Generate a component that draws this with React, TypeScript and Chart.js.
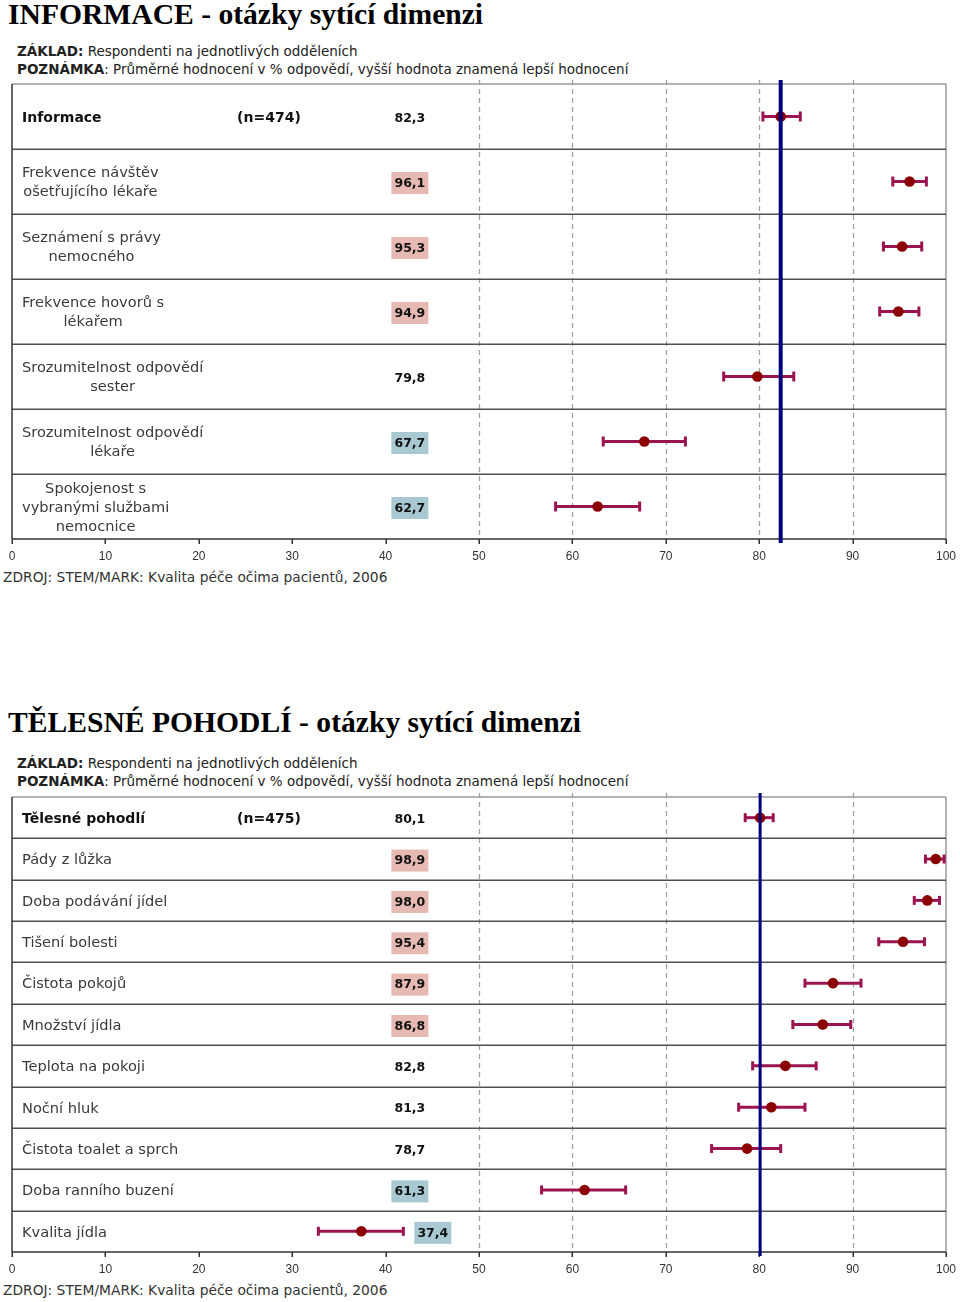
import React, { useEffect, useRef } from "react";
import { Chart, registerables } from "chart.js";

Chart.register(...registerables);

// ---------- DATA ----------
const xTickValues = [0, 10, 20, 30, 40, 50, 60, 70, 80, 90, 100];
const xTickLabels = ["0", "10", "20", "30", "40", "50", "60", "70", "80", "90", "100"];
const gridValues = [50, 60, 70, 80, 90];

// Panel 1: INFORMACE
const infoTitle = "INFORMACE - otázky sytící dimenzi";
const infoN = "(n=474)";
const infoCategories: string[][] = [
  ["Informace"],
  ["Frekvence návštěv", "ošetřujícího lékaře"],
  ["Seznámení s právy", "nemocného"],
  ["Frekvence hovorů s", "lékařem"],
  ["Srozumitelnost odpovědí", "sester"],
  ["Srozumitelnost odpovědí", "lékaře"],
  ["Spokojenost s", "vybranými službami", "nemocnice"],
];
const infoMeans = [82.3, 96.1, 95.3, 94.9, 79.8, 67.7, 62.7];
const infoLow = [80.4, 94.3, 93.3, 92.9, 76.2, 63.3, 58.2];
const infoHigh = [84.4, 97.9, 97.4, 97.1, 83.7, 72.1, 67.2];
const infoSignif = ["none", "higher", "higher", "higher", "none", "lower", "lower"];

// Panel 2: TĚLESNÉ POHODLÍ
const bodyTitle = "TĚLESNÉ POHODLÍ - otázky sytící dimenzi";
const bodyN = "(n=475)";
const bodyCategories: string[][] = [
  ["Tělesné pohodlí"],
  ["Pády z lůžka"],
  ["Doba podávání jídel"],
  ["Tišení bolesti"],
  ["Čistota pokojů"],
  ["Množství jídla"],
  ["Teplota na pokoji"],
  ["Noční hluk"],
  ["Čistota toalet a sprch"],
  ["Doba ranního buzení"],
  ["Kvalita jídla"],
];
const bodyMeans = [80.1, 98.9, 98.0, 95.4, 87.9, 86.8, 82.8, 81.3, 78.7, 61.3, 37.4];
const bodyLow = [78.5, 97.8, 96.6, 92.8, 84.9, 83.6, 79.3, 77.8, 74.9, 56.7, 32.8];
const bodyHigh = [81.5, 99.8, 99.3, 97.7, 90.9, 89.8, 86.1, 84.9, 82.3, 65.7, 41.9];
const bodySignif = ["none", "higher", "higher", "higher", "higher", "higher", "none", "none", "none", "lower", "lower"];

const baseText = "Respondenti na jednotlivých odděleních";
const noteText = ": Průměrné hodnocení v % odpovědí, vyšší hodnota znamená lepší hodnocení";
const sourceText = "ZDROJ: STEM/MARK: Kvalita péče očima pacientů, 2006";

// ---------- STYLE ----------
const SANS = "'DejaVu Sans', Verdana, sans-serif";
const PINK = "#e6b9b3";
const BLUE = "#a8c9d2";
const BAR = "#9b1450";
const DOT = "#8b0000";
const NAVY = "#000080";
const LABEL_CENTER_VALUE = 42.6;
const N_LABEL_VALUE = 24.1;
const TEXT_DY = 1.5;

type PanelProps = {
  categories: string[][];
  means: number[];
  lows: number[];
  highs: number[];
  signif: string[];
  nLabel: string;
  lineH: number;
  capH: number;
  refW: number;
};

function fmt(v: number) {
  return v.toFixed(1).replace(".", ",");
}

function makePanelPlugin(d: PanelProps) {
  const line = (ctx: CanvasRenderingContext2D, x1: number, y1: number, x2: number, y2: number) => {
    ctx.beginPath();
    ctx.moveTo(x1, y1);
    ctx.lineTo(x2, y2);
    ctx.stroke();
  };
  return {
    id: "panel",
    beforeDatasetsDraw(chart: any) {
      const { ctx, chartArea: a, scales } = chart;
      const x = scales.x;
      const y = scales.y;
      const n = d.means.length;
      ctx.save();
      // dashed grid
      ctx.strokeStyle = "#a0a0a0";
      ctx.lineWidth = 1.3;
      ctx.setLineDash([5, 4]);
      for (const v of gridValues) {
        const px = Math.round(x.getPixelForValue(v)) + 0.5;
        line(ctx, px, a.top - 4, px, a.bottom);
      }
      ctx.setLineDash([]);
      // top & right border
      ctx.strokeStyle = "#9a9a9a";
      ctx.lineWidth = 1.5;
      line(ctx, a.left, a.top, a.right, a.top);
      line(ctx, a.right, a.top, a.right, a.bottom);
      // row separators
      ctx.strokeStyle = "#505050";
      ctx.lineWidth = 1.5;
      for (let i = 1; i < n; i++) {
        const py = Math.round(y.getPixelForValue(i)) + 0.25;
        line(ctx, a.left, py, a.right, py);
      }
      // left border & bottom axis
      ctx.strokeStyle = "#333";
      ctx.lineWidth = 1.5;
      line(ctx, a.left, a.top, a.left, a.bottom);
      line(ctx, a.left, a.bottom, a.right, a.bottom);
      for (const v of xTickValues) {
        const px = Math.round(x.getPixelForValue(v)) + 0.25;
        line(ctx, px, a.bottom, px, a.bottom + 5);
      }
      // category labels
      ctx.textBaseline = "middle";
      for (let i = 0; i < n; i++) {
        const cy = y.getPixelForValue(i + 0.5);
        const ty = cy + TEXT_DY;
        const lines = d.categories[i];
        ctx.font = i === 0 ? `bold 14px ${SANS}` : `14.6px ${SANS}`;
        ctx.fillStyle = i === 0 ? "#111" : "#3a3a3a";
        let maxW = 0;
        for (const l of lines) maxW = Math.max(maxW, ctx.measureText(l).width);
        const cx = a.left + 10 + maxW / 2;
        ctx.textAlign = "center";
        lines.forEach((l, k) => {
          ctx.fillText(l, cx, ty + (k - (lines.length - 1) / 2) * d.lineH);
        });
        if (i === 0) {
          ctx.textAlign = "left";
          ctx.fillText(d.nLabel, x.getPixelForValue(N_LABEL_VALUE), ty);
        }
        // value label
        const txt = fmt(d.means[i]);
        ctx.font = `bold 12.5px ${SANS}`;
        const boxW = 37;
        const boxH = 22;
        let boxLeft = x.getPixelForValue(LABEL_CENTER_VALUE) - boxW / 2;
        const loPx = x.getPixelForValue(d.lows[i]);
        const hiPx = x.getPixelForValue(d.highs[i]);
        if (loPx < boxLeft + boxW + 4 && hiPx + 8 > boxLeft) boxLeft = hiPx + 11;
        const s = d.signif[i];
        if (s !== "none") {
          ctx.fillStyle = s === "higher" ? PINK : BLUE;
          ctx.fillRect(boxLeft, ty - boxH / 2, boxW, boxH);
        }
        ctx.fillStyle = "#111";
        ctx.textAlign = "center";
        ctx.fillText(txt, boxLeft + boxW / 2, ty + 0.5);
      }
      // error bars
      ctx.strokeStyle = BAR;
      ctx.lineWidth = 3;
      for (let i = 0; i < n; i++) {
        const cy = y.getPixelForValue(i + 0.5);
        const lo = x.getPixelForValue(d.lows[i]);
        const hi = x.getPixelForValue(d.highs[i]);
        line(ctx, lo, cy, hi, cy);
        line(ctx, lo, cy - d.capH / 2, lo, cy + d.capH / 2);
        line(ctx, hi, cy - d.capH / 2, hi, cy + d.capH / 2);
      }
      ctx.restore();
    },
    afterDatasetsDraw(chart: any) {
      const { ctx, chartArea: a, scales } = chart;
      const px = scales.x.getPixelForValue(d.means[0]);
      ctx.save();
      ctx.strokeStyle = NAVY;
      ctx.lineWidth = d.refW;
      ctx.beginPath();
      ctx.moveTo(px, a.top - 4);
      ctx.lineTo(px, a.bottom + 4);
      ctx.stroke();
      ctx.restore();
    },
  };
}

function PanelChart(props: PanelProps) {
  const ref = useRef<HTMLCanvasElement | null>(null);
  useEffect(() => {
    if (!ref.current) return;
    const n = props.means.length;
    const chart = new Chart(ref.current, {
      type: "scatter",
      data: {
        datasets: [
          {
            data: props.means.map((m, i) => ({ x: m, y: i + 0.5 })),
            pointRadius: 5.3,
            pointHoverRadius: 5.3,
            backgroundColor: DOT,
            borderColor: DOT,
            borderWidth: 0,
            showLine: false,
          },
        ],
      },
      options: {
        animation: false,
        responsive: false,
        devicePixelRatio: 1,
        layout: { padding: { left: 12, right: 14, top: 8, bottom: 0 } },
        plugins: { legend: { display: false }, tooltip: { enabled: false } },
        scales: {
          x: {
            type: "linear",
            min: 0,
            max: 100,
            position: "bottom",
            afterFit: (s: any) => {
              s.height = 27;
              s.paddingLeft = 0;
              s.paddingRight = 0;
            },
            grid: { display: false, drawTicks: false },
            border: { display: false },
            ticks: {
              stepSize: 10,
              padding: 10,
              autoSkip: false,
              maxRotation: 0,
              color: "#333",
              font: { family: "'Liberation Sans', Arial, sans-serif", size: 12 },
              callback: (_v: any, i: number) => xTickLabels[i],
            },
          },
          y: {
            type: "linear",
            min: 0,
            max: n,
            reverse: true,
            display: false,
          },
        },
      },
      plugins: [makePanelPlugin(props)],
    });
    return () => chart.destroy();
  }, []);
  return <canvas ref={ref} width={960} height={490} style={{ display: "block", width: 960, height: 490 }} />;
}

const abs = (top: number, extra: React.CSSProperties = {}): React.CSSProperties => ({
  position: "absolute",
  left: 0,
  top,
  ...extra,
});

function Notes({ top }: { top: number }) {
  return (
    <div style={abs(top, { left: 17, font: `13.5px ${SANS}`, lineHeight: "18px", color: "#222", whiteSpace: "nowrap" })}>
      <div>
        <b>ZÁKLAD:</b> {baseText}
      </div>
      <div>
        <b>POZNÁMKA</b>
        {noteText}
      </div>
    </div>
  );
}

export default function App() {
  const titleStyle: React.CSSProperties = {
    left: 8,
    font: "bold 29.6px 'Liberation Serif', 'Times New Roman', serif",
    lineHeight: "30px",
    color: "#000",
    whiteSpace: "nowrap",
  };
  const srcStyle: React.CSSProperties = {
    left: 3,
    font: `13.8px ${SANS}`,
    lineHeight: "18px",
    color: "#333",
    whiteSpace: "nowrap",
  };
  return (
    <div style={{ position: "absolute", left: 0, top: 0, width: 960, height: 1302, overflow: "hidden", background: "#fff" }}>
      <div style={abs(-1, titleStyle)}>{infoTitle}</div>
      <Notes top={42} />
      <div style={abs(76)}>
        <PanelChart
          categories={infoCategories}
          means={infoMeans}
          lows={infoLow}
          highs={infoHigh}
          signif={infoSignif}
          nLabel={infoN}
          lineH={19}
          capH={10}
          refW={4}
        />
      </div>
      <div style={abs(568, srcStyle)}>{sourceText}</div>

      <div style={abs(707, titleStyle)}>{bodyTitle}</div>
      <Notes top={754} />
      <div style={abs(789)}>
        <PanelChart
          categories={bodyCategories}
          means={bodyMeans}
          lows={bodyLow}
          highs={bodyHigh}
          signif={bodySignif}
          nLabel={bodyN}
          lineH={19}
          capH={9}
          refW={3}
        />
      </div>
      <div style={abs(1281, srcStyle)}>{sourceText}</div>
    </div>
  );
}
